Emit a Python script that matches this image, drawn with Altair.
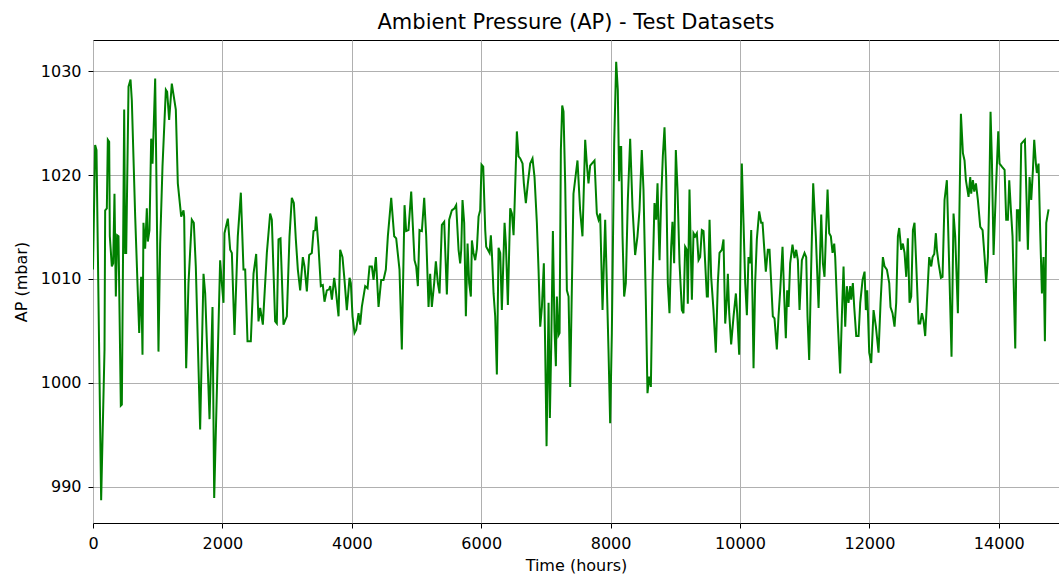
import altair as alt
import pandas as pd

time_hours = [
    0, 33, 54, 126, 178, 188, 214, 229, 250, 260, 291, 312, 332, 353, 373, 394, 430, 446, 482, 497,
    513, 549, 580, 600, 652, 714, 744, 765, 780, 806, 832, 847, 873, 899, 920, 935, 961, 981, 1012, 1038,
    1074, 1126, 1146, 1177, 1218, 1280, 1311, 1363, 1399, 1409, 1440, 1476, 1527, 1558, 1589, 1656, 1708, 1734, 1801, 1847,
    1873, 1965, 1991, 2017, 2032, 2084, 2120, 2146, 2187, 2238, 2285, 2326, 2352, 2388, 2439, 2481, 2522, 2558, 2584, 2625,
    2687, 2738, 2764, 2815, 2841, 2867, 2898, 2944, 2996, 3037, 3073, 3104, 3135, 3166, 3202, 3243, 3269, 3305, 3341, 3382,
    3408, 3434, 3449, 3485, 3521, 3552, 3578, 3614, 3650,
    3666, 3692, 3728, 3753, 3795, 3820, 3856, 3887, 3923, 3965, 3985, 4011, 4042, 4068, 4104, 4129, 4155, 4207, 4243, 4274,
    4310, 4336, 4372, 4413, 4454, 4490, 4526, 4557, 4609, 4655, 4686, 4737, 4773, 4815, 4840, 4876, 4918, 4969, 4995, 5021,
    5046, 5083, 5119, 5150, 5186, 5211, 5237, 5273, 5299, 5330, 5356, 5392, 5428, 5469, 5505, 5546,
    5588, 5613, 5650, 5675, 5691, 5711, 5737, 5763, 5789, 5814, 5840, 5856, 5881, 5907, 5933, 5959, 5984, 6005, 6031, 6062,
    6077, 6103, 6129, 6149, 6165, 6191, 6216, 6242, 6268, 6294, 6319, 6361, 6381, 6412, 6448, 6474, 6500, 6515, 6551, 6577,
    6603, 6639, 6659, 6690, 6721, 6757, 6793, 6824, 6860, 6886, 6912, 6938, 6968, 6989, 7010, 7041, 7061, 7082, 7108, 7133,
    7154, 7169, 7195, 7211, 7231, 7252, 7272, 7298, 7324, 7350, 7375,
    7426, 7488, 7529, 7565, 7607, 7632, 7658, 7684, 7710, 7751, 7787, 7813, 7838, 7875, 7916, 7941, 7967, 7993, 8019, 8055,
    8086, 8111, 8132, 8148, 8163, 8184, 8209, 8235, 8266, 8302, 8338, 8379, 8415, 8446, 8482, 8508, 8544, 8570, 8596, 8622,
    8647, 8678, 8704, 8725, 8740, 8756, 8781, 8807, 8833, 8859, 8884, 8910, 8936, 8956, 8982, 9008, 9034, 9065, 9101, 9126,
    9152, 9178, 9193, 9219,
    9256, 9281, 9307, 9333, 9359, 9384, 9410, 9436, 9462, 9487, 9503, 9529, 9554, 9590, 9626, 9657, 9683, 9719, 9745, 9771,
    9796, 9812, 9833, 9863, 9900, 9936, 9956, 9987, 10028, 10054, 10080, 10106, 10131, 10157, 10173, 10193, 10209, 10234, 10260, 10296,
    10327, 10348, 10379, 10399, 10430, 10456, 10482, 10507, 10533, 10569, 10595, 10621, 10657, 10683, 10708, 10729, 10750, 10775, 10811, 10842,
    10868, 10894, 10920, 10956, 10997, 11023, 11043, 11069, 11100, 11131,
    11172, 11214, 11255, 11281, 11306, 11327, 11353, 11378, 11404, 11430, 11456, 11471, 11507, 11548, 11574, 11600, 11626, 11651, 11677, 11703,
    11718, 11744, 11765, 11796, 11832, 11858, 11894, 11925, 11945, 11966, 11997, 12028, 12064, 12100, 12141, 12172, 12208, 12234, 12270, 12306,
    12326, 12357, 12388, 12414, 12440, 12460, 12491, 12517, 12543, 12569, 12594, 12620, 12646, 12672, 12697, 12723, 12759, 12785, 12811, 12836,
    12862, 12888, 12924, 12955, 12976,
    13002, 13027, 13043, 13069, 13105, 13130, 13161, 13197, 13233, 13269, 13300, 13326, 13367, 13414, 13445, 13470, 13491, 13532, 13558, 13573,
    13599, 13620, 13646, 13676, 13713, 13749, 13780, 13805, 13831, 13852, 13872, 13893, 13919, 13955, 13991, 14011, 14047, 14089, 14114, 14140,
    14161, 14187, 14212, 14254, 14279, 14305, 14321, 14346, 14372, 14403, 14429, 14449, 14475, 14501, 14527, 14547, 14573, 14588, 14614, 14640,
    14666, 14691, 14712, 14733, 14769,
]

ap_mbar = [
    1010.9, 1022.9, 1022.4, 988.7, 1003.2, 1016.6, 1016.8, 1023.4, 1023.2, 1014.1, 1011.2, 1011.5, 1018.2, 1008.3, 1014.2, 1014.1, 997.8, 997.9, 1026.3, 1012.5,
    1012.5, 1028.5, 1029.2, 1027.2, 1016.0, 1004.8, 1010.2, 1002.7, 1015.4, 1012.9, 1016.8, 1013.6, 1014.7, 1023.5, 1021.1, 1024.0, 1029.3, 1019.2, 1003.0, 1013.4,
    1020.8, 1028.2, 1028.0, 1025.3, 1028.8, 1026.3, 1019.2, 1016.0, 1016.6, 1016.0, 1001.4, 1009.6, 1015.7, 1015.4, 1011.2, 995.5, 1010.5, 1008.6, 996.5, 1007.3,
    988.9, 1011.8, 1009.6, 1007.7, 1014.4, 1015.8, 1012.8, 1012.5, 1004.6, 1014.1, 1018.3, 1010.9, 1010.9, 1004.0, 1004.0, 1010.5, 1012.4, 1005.9, 1007.2, 1005.6,
    1012.5, 1016.3, 1015.7, 1005.9, 1005.7, 1013.8, 1013.9, 1005.6, 1006.4, 1014.1, 1017.8, 1017.3, 1013.8, 1010.9, 1008.9, 1012.1, 1011.2, 1008.8, 1012.3, 1012.5,
    1014.6, 1014.7, 1016.0, 1013.1, 1009.3, 1009.4, 1007.8, 1008.9, 1009.0,
    1009.3, 1008.0, 1010.1, 1008.9, 1006.4, 1012.8, 1012.1, 1009.9, 1007.0, 1010.1, 1009.6, 1006.4, 1004.8, 1005.1, 1006.7, 1005.6, 1007.3, 1009.3, 1009.1, 1011.2,
    1011.2, 1009.9, 1012.1, 1007.3, 1009.9, 1009.9, 1010.9, 1014.1, 1017.8, 1014.1, 1013.9, 1010.9, 1003.2, 1017.1, 1014.6, 1014.7, 1018.4, 1011.8, 1011.2, 1009.3,
    1014.7, 1014.6, 1017.8, 1014.1, 1007.3, 1010.5, 1007.3, 1009.6, 1011.7, 1009.6, 1008.6, 1015.2, 1015.5, 1008.5, 1015.7, 1016.6,
    1016.8, 1017.1, 1012.8, 1011.5, 1012.8, 1017.6, 1015.4, 1006.4, 1013.4, 1009.6, 1008.3, 1013.7, 1012.5, 1011.8, 1012.9, 1016.0, 1016.6, 1021.0, 1020.8, 1014.7,
    1013.1, 1012.8, 1012.5, 1014.2, 1012.5, 1008.6, 1006.4, 1000.8, 1013.0, 1012.5, 1007.0, 1015.4, 1013.4, 1007.5, 1016.8, 1016.3, 1014.2, 1016.9, 1024.2, 1021.8,
    1021.6, 1021.1, 1019.2, 1017.3, 1019.2, 1021.1, 1021.6, 1019.8, 1015.4, 1010.9, 1005.4, 1007.3, 1011.5, 1003.2, 993.9, 1007.7, 996.6, 1003.5, 1014.6, 1005.1,
    1001.6, 1008.3, 1004.6, 1004.8, 1022.4, 1026.7, 1026.1, 1019.2, 1008.9, 1008.3, 999.6,
    1018.2, 1021.4, 1016.6, 1014.1, 1023.4, 1021.1, 1019.2, 1020.9, 1021.1, 1021.4, 1016.3, 1015.7, 1016.3, 1007.0, 1015.7, 1009.6, 1003.2, 996.1, 1004.8, 1023.0,
    1030.9, 1028.2, 1019.4, 1022.7, 1022.7, 1014.1, 1008.3, 1009.6, 1017.6, 1023.5, 1016.9, 1012.3, 1014.1, 1016.6, 1022.4, 1018.6, 1008.0, 999.0, 1000.6, 999.6,
    1009.6, 1017.3, 1015.7, 1019.2, 1015.4, 1011.8, 1017.6, 1021.8, 1024.6, 1019.8, 1009.6, 1006.7, 1013.1, 1015.5, 1011.5, 1022.4, 1018.6, 1011.5, 1007.0, 1006.7,
    1013.1, 1012.8, 1007.6, 1018.6,
    1008.0, 1014.4, 1014.1, 1014.4, 1011.8, 1012.1, 1014.7, 1014.6, 1011.5, 1008.3, 1008.3, 1015.7, 1010.2, 1007.0, 1002.9, 1009.6, 1012.5, 1012.8, 1013.8, 1005.7,
    1008.0, 1010.5, 1006.7, 1003.7, 1006.4, 1008.6, 1006.7, 1002.7, 1021.1, 1015.4, 1009.6, 1006.5, 1012.1, 1011.5, 1014.7, 1008.0, 1001.4, 1009.6, 1013.8, 1016.5,
    1015.4, 1015.4, 1012.5, 1010.7, 1012.8, 1012.8, 1009.6, 1006.4, 1006.2, 1003.2, 1006.4, 1008.9, 1013.1, 1008.3, 1004.3, 1008.9, 1007.3, 1011.5, 1013.3, 1012.0,
    1012.8, 1011.8, 1007.0, 1011.8, 1012.5, 1012.1, 1006.4, 1002.2, 1011.2, 1019.2,
    1014.1, 1007.2, 1016.2, 1011.5, 1010.2, 1014.1, 1018.6, 1014.4, 1014.1, 1012.5, 1013.4, 1012.1, 1006.4, 1000.9, 1006.4, 1011.2, 1005.4, 1009.3, 1007.7, 1009.3,
    1008.0, 1009.6, 1007.3, 1004.5, 1004.5, 1007.7, 1009.9, 1010.7, 1007.0, 1008.9, 1002.9, 1001.9, 1007.0, 1005.4, 1002.9, 1007.7, 1012.1, 1011.2, 1010.9, 1009.6,
    1007.3, 1006.7, 1005.4, 1007.7, 1014.1, 1014.9, 1012.8, 1013.4, 1012.5, 1010.2, 1013.9, 1007.7, 1008.3, 1014.7, 1015.4, 1011.5, 1005.7, 1005.7, 1006.7, 1006.0,
    1004.5, 1007.7, 1012.1, 1011.2, 1012.1,
    1012.4, 1014.4, 1012.8, 1011.5, 1010.1, 1010.2, 1017.6, 1019.5, 1011.2, 1002.5, 1016.3, 1014.1, 1006.7, 1025.9, 1022.1, 1021.4, 1019.5, 1017.9, 1019.8, 1018.2,
    1019.5, 1018.4, 1019.2, 1017.6, 1015.0, 1014.7, 1012.1, 1009.6, 1012.1, 1017.9, 1026.1, 1021.4, 1012.3, 1018.6, 1024.2, 1021.1, 1020.8, 1020.5, 1015.7, 1015.7,
    1019.5, 1016.6, 1014.1, 1003.3, 1016.6, 1016.6, 1013.6, 1023.0, 1023.2, 1023.4, 1017.6, 1012.8, 1019.8, 1017.6, 1020.5, 1023.4, 1021.1, 1020.2, 1021.1, 1014.4,
    1008.6, 1012.1, 1004.0, 1015.4, 1016.7,
]

x_ticks = [0, 2000, 4000, 6000, 8000, 10000, 12000, 14000]
y_ticks = [990, 1000, 1010, 1020, 1030]

df = pd.DataFrame({"time": time_hours, "ap": ap_mbar})

FONT = "DejaVu Sans"

chart = (
    alt.Chart(df)
    .mark_line(color="#008000", strokeWidth=2, clip=True)
    .encode(
        x=alt.X(
            "time:Q",
            scale=alt.Scale(domain=[0, 14930], nice=False, zero=False),
            axis=alt.Axis(values=x_ticks, format="d", title="Time (hours)",
                          labelPadding=7, titlePadding=6, tickSize=5, labelFlush=False),
        ),
        y=alt.Y(
            "ap:Q",
            scale=alt.Scale(domain=[986.5, 1033.0], nice=False, zero=False),
            axis=alt.Axis(values=y_ticks, format="d", title="AP (mbar)",
                          labelPadding=7, titlePadding=11, tickSize=5, labelFlush=False),
        ),
    )
    .properties(
        width=966,
        height=483,
        title=alt.TitleParams("Ambient Pressure (AP) - Test Datasets", fontSize=21,
                              font=FONT, fontWeight="normal", color="black", offset=7),
        padding={"left": 93, "top": 40, "right": 0, "bottom": 54},
        autosize="none",
        background="white",
    )
    .configure_view(stroke="black", strokeWidth=1)
    .configure_axis(
        grid=True,
        gridColor="#b0b0b0",
        gridWidth=1,
        gridOpacity=1,
        domain=False,
        tickColor="black",
        tickWidth=1,
        labelFont=FONT,
        labelFontSize=16,
        labelColor="black",
        titleFont=FONT,
        titleFontSize=16,
        titleFontWeight="normal",
        titleColor="black",
    )
)

chart.save("out.html", embed_options={"renderer": "svg", "actions": False})
